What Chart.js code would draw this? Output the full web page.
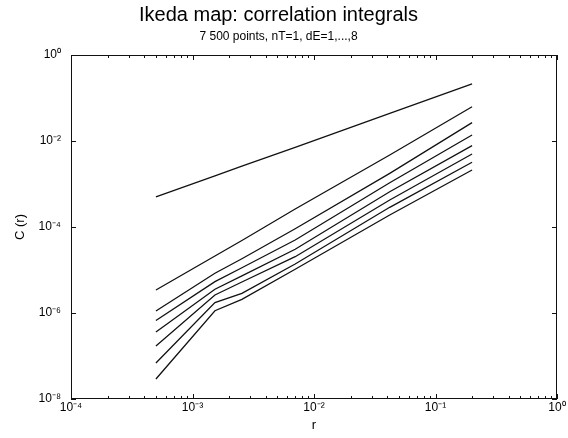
<!DOCTYPE html>
<html>
<head>
<meta charset="utf-8">
<script src="https://cdn.jsdelivr.net/npm/chart.js@4/dist/chart.umd.min.js"></script>
<style>
  html, body { margin: 0; padding: 0; background: #fff; }
  #wrap { width: 568px; height: 438px; }
</style>
</head>
<body>
<div id="wrap"><canvas id="ikedaChart" width="568" height="438"></canvas></div>
<script>
const radii = [5e-4, 1.53e-3, 2.55e-3, 7e-3, 4.2e-2, 0.2];

// correlation integrals C(r), one array per embedding dimension dE
const dE1 = [4.99e-4, 1.54e-3, 2.59e-3, 7.13e-3, 4.41e-2, 0.212];
const dE2 = [3.43e-6, 2.12e-5, 4.85e-5, 2.62e-4, 4.72e-3, 6.28e-2];
const dE3 = [1.11e-6, 8.38e-6, 1.83e-5, 9.12e-5, 1.77e-3, 2.67e-2];
const dE4 = [6.70e-7, 5.35e-6, 1.13e-5, 4.99e-5, 1.07e-3, 1.38e-2];
const dE5 = [3.61e-7, 3.56e-6, 7.33e-6, 3.03e-5, 6.62e-4, 7.78e-3];
const dE6 = [1.71e-7, 2.62e-6, 5.26e-6, 2.04e-5, 4.25e-4, 4.99e-3];
const dE7 = [6.87e-8, 1.74e-6, 2.87e-6, 1.38e-5, 2.87e-4, 3.20e-3];
const dE8 = [2.92e-8, 1.13e-6, 2.08e-6, 1.04e-5, 1.90e-4, 2.12e-3];

// tick decades (exponents)
const xDecades = [-4, -3, -2, -1, 0];
const yDecades = [-8, -6, -4, -2, 0];

const FONT = "'Liberation Sans', Arial, Helvetica, sans-serif";
const sup = { '0':'⁰','1':'¹','2':'²','3':'³','4':'⁴','5':'⁵','6':'⁶','7':'⁷','8':'⁸','9':'⁹','-':'⁻' };
function powLabel(v) {
    const e = String(Math.round(Math.log10(v)));
    return '10' + e.split('').map(c => sup[c]).join('');
}

// frame + inward tick marks (like the original plot)
const frameTicks = {
    id: 'frameTicks',
    afterDraw(chart) {
        const {ctx, chartArea: a, scales} = chart;
        const x = scales.x, y = scales.y;
        ctx.save();
        ctx.strokeStyle = '#111';
        ctx.lineWidth = 1;
        ctx.strokeRect(a.left + 0.5, a.top + 0.5, a.right - a.left - 1, a.bottom - a.top - 1);
        ctx.beginPath();
        xDecades.forEach((d, i) => {
            for (let m = 1; m <= 9; m++) {
                if (i === xDecades.length - 1 && m > 1) break;
                const px = Math.round(x.getPixelForValue(m * Math.pow(10, d))) + 0.5;
                const len = m === 1 ? 5 : 3;
                ctx.moveTo(px, a.bottom); ctx.lineTo(px, a.bottom - len);
                ctx.moveTo(px, a.top); ctx.lineTo(px, a.top + len);
            }
        });
        yDecades.forEach(d => {
            const py = Math.round(y.getPixelForValue(Math.pow(10, d))) + 0.5;
            ctx.moveTo(a.left, py); ctx.lineTo(a.left + 5, py);
            ctx.moveTo(a.right, py); ctx.lineTo(a.right - 5, py);
        });
        ctx.stroke();
        ctx.restore();
    }
};

const allSeries = [dE1, dE2, dE3, dE4, dE5, dE6, dE7, dE8];
const datasets = allSeries.map((vals, i) => ({
    label: 'dE=' + (i + 1),
    data: vals.map((c, k) => ({ x: radii[k], y: c })),
    borderColor: '#111',
    borderWidth: 1.3,
    pointRadius: 0,
    tension: 0,
    fill: false
}));

const ctx = document.getElementById('ikedaChart').getContext('2d');
new Chart(ctx, {
    type: 'line',
    data: { datasets: datasets },
    options: {
        responsive: false,
        animation: false,
        layout: { padding: { left: 0, right: 11, top: 0, bottom: 0 } },
        plugins: {
            legend: { display: false },
            tooltip: { enabled: false },
            title: {
                display: true,
                text: 'Ikeda map: correlation integrals',
                color: '#000',
                font: { family: FONT, size: 20, weight: 'normal' },
                padding: { top: 3, bottom: 0 }
            },
            subtitle: {
                display: true,
                text: '7 500 points, nT=1, dE=1,...,8',
                color: '#000',
                font: { family: FONT, size: 12, weight: 'normal' },
                padding: { top: 2, bottom: 11.6 }
            }
        },
        scales: {
            x: {
                type: 'logarithmic',
                min: 1e-4,
                max: 1,
                grid: { display: false, drawTicks: false },
                border: { display: false },
                afterBuildTicks: s => { s.ticks = xDecades.map(d => ({ value: Math.pow(10, d) })); },
                afterFit: s => { s.height = 39; },
                ticks: {
                    color: '#000',
                    font: { family: FONT, size: 12 },
                    padding: 1,
                    maxRotation: 0,
                    callback: v => powLabel(v)
                },
                title: {
                    display: true,
                    text: 'r',
                    color: '#000',
                    font: { family: FONT, size: 13 },
                    padding: { top: 0, bottom: 5 }
                }
            },
            y: {
                type: 'logarithmic',
                min: 1e-8,
                max: 1,
                grid: { display: false, drawTicks: false },
                border: { display: false },
                afterBuildTicks: s => { s.ticks = yDecades.map(d => ({ value: Math.pow(10, d) })); },
                afterFit: s => { s.width = 71; },
                ticks: {
                    color: '#000',
                    font: { family: FONT, size: 12 },
                    padding: 10,
                    callback: v => powLabel(v)
                },
                title: {
                    display: true,
                    text: 'C (r)',
                    color: '#000',
                    font: { family: FONT, size: 13 },
                    padding: { top: 13, bottom: 0 }
                }
            }
        }
    },
    plugins: [frameTicks]
});
</script>
</body>
</html>
